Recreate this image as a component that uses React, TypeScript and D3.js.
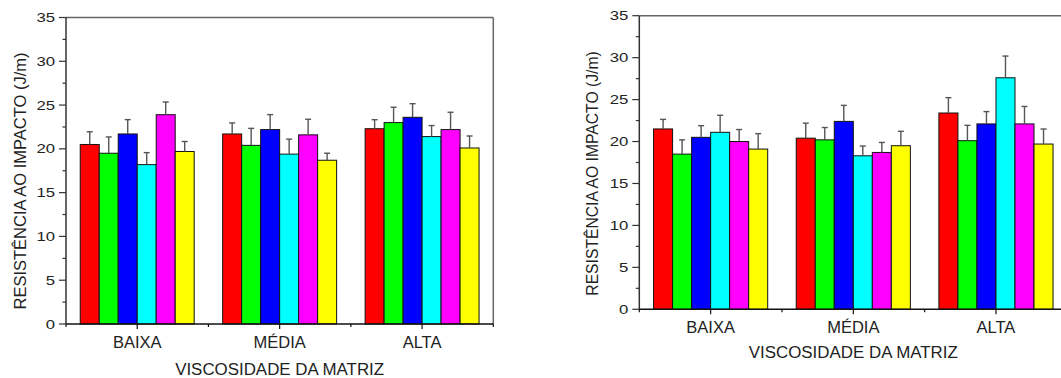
import React from "react";
import * as d3 from "d3";

const categories = ["BAIXA", "MÉDIA", "ALTA"];
const seriesColors = ["#ff0000", "#00ff00", "#0000ff", "#00ffff", "#ff00ff", "#ffff00"];
const yTicks = [0, 5, 10, 15, 20, 25, 30, 35];

// Panel A (left)
const aRed = [20.5, 21.7, 22.3];
const aGreen = [19.5, 20.4, 23.0];
const aBlue = [21.7, 22.2, 23.6];
const aCyan = [18.2, 19.4, 21.4];
const aMagenta = [23.9, 21.6, 22.2];
const aYellow = [19.7, 18.7, 20.1];
const aRedErr = [1.45, 1.26, 1.03];
const aGreenErr = [1.86, 1.94, 1.75];
const aBlueErr = [1.64, 1.71, 1.56];
const aCyanErr = [1.37, 1.71, 1.26];
const aMagentaErr = [1.45, 1.78, 1.98];
const aYellowErr = [1.14, 0.8, 1.37];

// Panel B (right)
const bRed = [21.5, 20.4, 23.4];
const bGreen = [18.5, 20.2, 20.1];
const bBlue = [20.5, 22.4, 22.1];
const bCyan = [21.1, 18.3, 27.6];
const bMagenta = [20.0, 18.7, 22.1];
const bYellow = [19.1, 19.5, 19.7];
const bRedErr = [1.14, 1.79, 1.83];
const bGreenErr = [1.7, 1.47, 1.83];
const bBlueErr = [1.39, 1.91, 1.47];
const bCyanErr = [2.03, 1.16, 2.59];
const bMagentaErr = [1.43, 1.19, 2.08];
const bYellowErr = [1.84, 1.72, 1.79];

const yTitle = "RESISTÊNCIA AO IMPACTO (J/m)";
const xTitle = "VISCOSIDADE DA MATRIZ";

const FONT = "'Liberation Sans', Arial, sans-serif";

type PanelProps = {
  x0: number; x1: number; yTop: number; yBottom: number;
  means: number[][]; errs: number[][];
  yTitleX: number; yTitleY: number; yTitleSize: number;
  catBaseline: number; xTitleBaseline: number;
};

function Panel(p: PanelProps) {
  const x = d3.scaleBand<string>().domain(categories).range([p.x0, p.x1]).padding(0);
  const series = d3.range(seriesColors.length).map(String);
  const inner = d3.scaleBand<string>().domain(series).range([0, x.bandwidth() * 0.8]).padding(0);
  const y = d3.scaleLinear().domain([0, 35]).range([p.yBottom, p.yTop]);
  const groupOffset = x.bandwidth() * 0.1;
  const minorY = d3.range(2.5, 35, 5);
  const bounds = categories.map((c) => x(c)!).concat([p.x1]);
  return (
    <g fontFamily={FONT}>
      {/* bars */}
      {categories.map((c, ci) =>
        series.map((s, si) => {
          const bx = x(c)! + groupOffset + inner(s)!;
          const v = p.means[si][ci];
          return (
            <rect key={c + s} x={bx} y={y(v)} width={inner.bandwidth()} height={y(0) - y(v)}
              fill={seriesColors[si]} stroke="#111" strokeWidth={1} />
          );
        })
      )}
      {/* error bars */}
      {categories.map((c, ci) =>
        series.map((s, si) => {
          const cx = x(c)! + groupOffset + inner(s)! + inner.bandwidth() / 2;
          const v = p.means[si][ci];
          const e = p.errs[si][ci];
          return (
            <g key={"e" + c + s} stroke="#555" strokeWidth={1.4}>
              <line x1={cx} x2={cx} y1={y(v)} y2={y(v + e)} />
              <line x1={cx - 3} x2={cx + 3} y1={y(v + e)} y2={y(v + e)} />
            </g>
          );
        })
      )}
      {/* frame */}
      <line x1={p.x0} x2={p.x1} y1={p.yTop} y2={p.yTop} stroke="#666" strokeWidth={1.5} />
      <line x1={p.x1} x2={p.x1} y1={p.yTop} y2={p.yBottom} stroke="#666" strokeWidth={1.5} />
      <line x1={p.x0} x2={p.x0} y1={p.yTop} y2={p.yBottom} stroke="#333" strokeWidth={1.5} />
      <line x1={p.x0} x2={p.x1} y1={p.yBottom} y2={p.yBottom} stroke="#111" strokeWidth={1.5} />
      {/* y ticks */}
      {yTicks.map((t) => (
        <g key={"yt" + t}>
          <line x1={p.x0 - 7} x2={p.x0} y1={y(t)} y2={y(t)} stroke="#333" strokeWidth={1.2} />
          <text x={p.x0 - 11} y={y(t) + 4.5} textAnchor="end" fontSize={13}
            textLength={String(t).length * 9.3} lengthAdjust="spacingAndGlyphs" fill="#222">{t}</text>
        </g>
      ))}
      {minorY.map((t) => (
        <line key={"my" + t} x1={p.x0 - 3.5} x2={p.x0} y1={y(t)} y2={y(t)} stroke="#333" strokeWidth={1.2} />
      ))}
      {/* x ticks */}
      {categories.map((c) => {
        const cx = x(c)! + x.bandwidth() / 2;
        return (
          <g key={"xt" + c}>
            <line x1={cx} x2={cx} y1={p.yBottom} y2={p.yBottom + 5} stroke="#111" strokeWidth={1.2} />
            <text x={cx} y={p.catBaseline} textAnchor="middle" fontSize={16.5} fill="#222">{c}</text>
          </g>
        );
      })}
      {bounds.map((b, i) => (
        <line key={"mx" + i} x1={b} x2={b} y1={p.yBottom} y2={p.yBottom + 3} stroke="#111" strokeWidth={1.2} />
      ))}
      <text x={(p.x0 + p.x1) / 2} y={p.xTitleBaseline} textAnchor="middle" fontSize={16.9} fill="#222">{xTitle}</text>
      <text transform={`translate(${p.yTitleX},${p.yTitleY}) rotate(-90)`} textAnchor="middle"
        fontSize={p.yTitleSize} fill="#222">{yTitle}</text>
    </g>
  );
}

export default function App() {
  const aMeans = [aRed, aGreen, aBlue, aCyan, aMagenta, aYellow];
  const aErrs = [aRedErr, aGreenErr, aBlueErr, aCyanErr, aMagentaErr, aYellowErr];
  const bMeans = [bRed, bGreen, bBlue, bCyan, bMagenta, bYellow];
  const bErrs = [bRedErr, bGreenErr, bBlueErr, bCyanErr, bMagentaErr, bYellowErr];
  return (
    <svg width={1061} height={378} style={{ position: "absolute", left: 0, top: 0, background: "#fff" }}>
      <rect x={0} y={0} width={1061} height={378} fill="#fff" />
      <Panel x0={66} x1={493.3} yTop={17.5} yBottom={324} means={aMeans} errs={aErrs}
        yTitleX={25.5} yTitleY={181} yTitleSize={16.5} catBaseline={348} xTitleBaseline={375} />
      <Panel x0={639.3} x1={1067.3} yTop={15.7} yBottom={309.3} means={bMeans} errs={bErrs}
        yTitleX={597.5} yTitleY={173.5} yTitleSize={15.7} catBaseline={333.3} xTitleBaseline={358.3} />
    </svg>
  );
}
